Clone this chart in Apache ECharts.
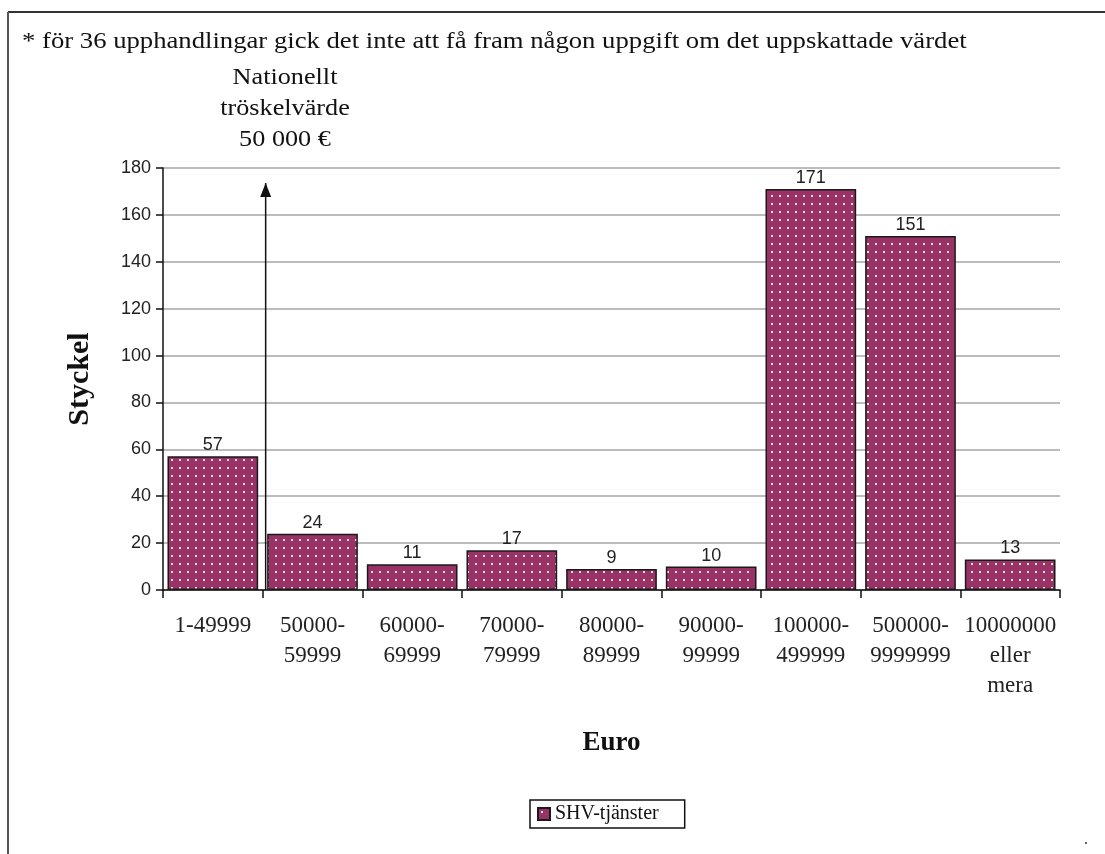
<!DOCTYPE html>
<html>
<head>
<meta charset="utf-8">
<script src="https://cdn.jsdelivr.net/npm/echarts@6/dist/echarts.min.js"></script>
<style>
  html, body { margin: 0; padding: 0; background: #fff; }
  #chart { width: 1105px; height: 854px; }
</style>
</head>
<body>
<div id="chart"></div>
<script>
// Procurements by estimated value (euro bands)
const categories = [
  '1-49999', '50000-\n59999', '60000-\n69999', '70000-\n79999', '80000-\n89999',
  '90000-\n99999', '100000-\n499999', '500000-\n9999999', '10000000\neller\nmera'
];
const counts = [57, 24, 11, 17, 9, 10, 171, 151, 13];
const seriesName = 'SHV-tjänster';
const yTicks = { min: 0, max: 180, interval: 20 };
// National threshold marker (between first and second band) as [x, y] on a 0..9 value scale
const thresholdArrow = [[1.03, 0], [1.03, 173.6]];
const noteText = '* för 36 upphandlingar gick det inte att få fram någon uppgift om det uppskattade värdet';
const thresholdText = 'Nationellt\ntröskelvärde\n50 000 €';

// Dotted plum fill used for the bars
function dotPattern() {
  const c = document.createElement('canvas');
  c.width = 8; c.height = 8;
  const g = c.getContext('2d');
  g.fillStyle = '#993366';
  g.fillRect(0, 0, 8, 8);
  g.fillStyle = '#f3dce8';
  g.fillRect(3, 3, 2, 2);
  return c;
}
const fill = { image: dotPattern(), repeat: 'repeat' };

const serif = '"Liberation Serif", "DejaVu Serif", serif';
const sans = '"Liberation Sans", Arial, sans-serif';

const chart = echarts.init(document.getElementById('chart'), null, { renderer: 'canvas' });
chart.setOption({
  animation: false,
  backgroundColor: '#fff',
  grid: { left: 163, right: 45, top: 168, bottom: 264, containLabel: false },
  legend: {
    data: [seriesName],
    left: 530, top: 800,
    orient: 'horizontal',
    icon: 'rect',
    itemWidth: 12, itemHeight: 12, itemGap: 5,
    padding: [4, 26, 4, 7],
    borderColor: '#111', borderWidth: 1.5,
    textStyle: { fontFamily: serif, fontSize: 20, color: '#111' }
  },
  xAxis: [{
    type: 'category',
    data: categories,
    boundaryGap: true,
    name: 'Euro',
    nameLocation: 'middle',
    nameGap: 140,
    nameTextStyle: { fontFamily: serif, fontSize: 27, fontWeight: 'bold', color: '#111' },
    axisLine: { lineStyle: { color: '#111', width: 1.5 } },
    axisTick: { show: true, length: 8, inside: false, alignWithLabel: false, lineStyle: { color: '#111', width: 1.5 } },
    axisLabel: { fontFamily: serif, fontSize: 23, color: '#222', lineHeight: 30, margin: 21, interval: 0 }
  }, {
    type: 'value', min: 0, max: 9, show: false
  }],
  yAxis: {
    type: 'value',
    min: yTicks.min, max: yTicks.max, interval: yTicks.interval,
    name: 'Styckel',
    nameLocation: 'middle',
    nameGap: 68,
    nameTextStyle: { fontFamily: serif, fontSize: 30, fontWeight: 'bold', color: '#111' },
    axisLine: { show: true, lineStyle: { color: '#111', width: 1.5 } },
    axisTick: { show: true, length: 7, lineStyle: { color: '#111', width: 1.5 } },
    axisLabel: { fontFamily: sans, fontSize: 18, color: '#222', margin: 12 },
    splitLine: { show: true, lineStyle: { color: '#a6a6a6', width: 1.5 } }
  },
  series: [{
    name: seriesName,
    type: 'bar',
    data: counts,
    barCategoryGap: '9%',
    itemStyle: { color: fill, borderColor: '#1a1a1a', borderWidth: 1.5 },
    label: {
      show: true, position: 'top', distance: 2,
      fontFamily: sans, fontSize: 18, color: '#222'
    }
  }, {
    type: 'line',
    xAxisIndex: 1,
    silent: true,
    legendHoverLink: false,
    lineStyle: { color: '#111', width: 1.5 },
    data: [
      { value: thresholdArrow[0], symbol: 'none' },
      { value: thresholdArrow[1], symbol: 'triangle', symbolSize: [11, 14], symbolOffset: [0, 7],
        itemStyle: { color: '#111' } }
    ]
  }],
  graphic: [
    { type: 'line', shape: { x1: 8, y1: 12, x2: 1105, y2: 12 }, style: { stroke: '#333', lineWidth: 2 } },
    { type: 'line', shape: { x1: 8, y1: 12, x2: 8, y2: 854 }, style: { stroke: '#555', lineWidth: 2 } },
    { type: 'text', x: 22, y: 42, scaleX: 1.16,
      style: { text: noteText, fontFamily: serif, fontSize: 23, fill: '#111',
               align: 'left', verticalAlign: 'middle' } },
    { type: 'text', x: 285, y: 62, scaleX: 1.14,
      style: { text: thresholdText, fontFamily: serif, fontSize: 23, lineHeight: 31, fill: '#111',
               align: 'center', verticalAlign: 'top' } },
    { type: 'circle', shape: { cx: 1086, cy: 843, r: 1 }, style: { fill: '#333' } }
  ]
});
</script>
</body>
</html>
